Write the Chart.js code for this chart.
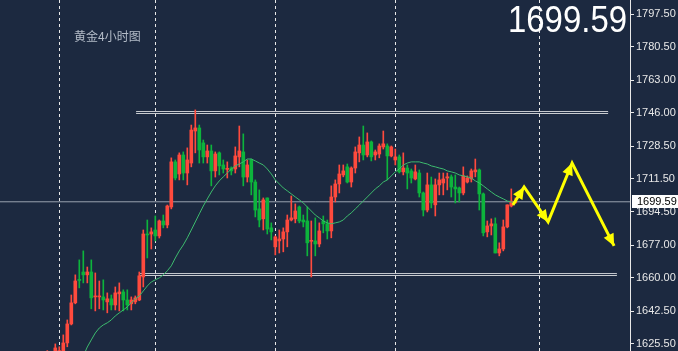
<!DOCTYPE html>
<html>
<head>
<meta charset="utf-8">
<script src="https://cdn.jsdelivr.net/npm/chart.js@4.4.1/dist/chart.umd.min.js"></script>
<style>
  html, body { margin: 0; padding: 0; background: #1c2940; }
  #wrap { width: 678px; height: 351px; }
</style>
</head>
<body>
<div id="wrap"><canvas id="goldChart" width="678" height="351"></canvas></div>
<script>
// 黄金 4小时图 - candles, MA, support/resistance boxes and forecast arrows

const opens = [
  1618.0,1617.0,1620.8,1619.5,1621.9,1626.0,1635.9,1646.9,1658.9,1663.0,
  1661.5,1663.0,1650.0,1650.0,1650.0,1647.4,1649.0,1645.8,1651.6,1652.6,
  1648.4,1646.4,1647.4,1648.4,1660.4,1682.8,1682.8,1684.9,1681.8,1689.6,
  1687.5,1696.9,1720.4,1714.1,1724.0,1714.6,1719.8,1736.5,1738.1,1730.3,
  1723.0,1726.1,1715.7,1725.1,1718.8,1716.5,1717.2,1716.7,1723.0,1725.6,
  1712.5,1721.4,1709.9,1695.9,1690.7,1701.6,1686.0,1676.1,1679.2,1680.2,
  1683.9,1690.1,1690.7,1696.9,1690.1,1689.6,1679.0,1679.2,1677.6,1689.6,
  1688.1,1684.4,1702.1,1708.9,1713.6,1717.8,1709.9,1717.2,1725.1,1729.2,
  1724.0,1730.8,1724.0,1724.5,1728.2,1728.7,1723.5,1721.4,1723.0,1715.2,
  1717.2,1715.7,1711.5,1714.6,1704.2,1695.3,1708.4,1698.0,1708.4,1709.4,
  1712.0,1712.6,1707.3,1706.8,1704.2,1709.9,1711.5,1715.2,1716.2,1703.7,
  1683.9,1687.0,1688.1,1672.9,1675.0,1686.5,1697.4,1699.0
];
const highs = [
  1622.0,1620.5,1625.5,1624.0,1630.2,1638.0,1651.0,1661.5,1669.3,1674.0,
  1665.6,1669.3,1662.5,1658.3,1658.9,1652.1,1651.0,1655.2,1657.3,1653.7,
  1653.7,1650.0,1650.5,1663.0,1684.9,1690.1,1686.0,1692.2,1690.1,1692.7,
  1697.9,1722.5,1721.4,1725.1,1725.6,1727.7,1739.6,1747.5,1739.6,1731.8,
  1729.2,1729.2,1725.6,1725.6,1721.4,1720.4,1717.8,1728.2,1739.1,1735.0,
  1721.4,1721.9,1711.0,1705.8,1701.6,1701.6,1688.6,1681.8,1684.9,1686.0,
  1692.7,1702.6,1698.5,1697.4,1692.7,1696.9,1689.6,1691.2,1688.6,1692.2,
  1690.1,1707.9,1711.0,1718.8,1718.8,1719.3,1717.8,1728.2,1733.4,1739.1,
  1735.5,1731.3,1726.6,1729.8,1736.5,1729.8,1728.7,1727.1,1724.0,1725.1,
  1718.8,1716.7,1718.8,1716.2,1704.7,1714.6,1712.5,1711.5,1714.6,1714.6,
  1714.6,1713.6,1713.6,1707.3,1717.8,1713.1,1716.7,1721.9,1716.7,1704.2,
  1689.6,1690.7,1691.2,1678.2,1690.1,1698.0,1706.3,1701.6
];
const lows = [
  1614.0,1613.0,1618.5,1617.5,1621.5,1624.0,1635.4,1646.4,1654.7,1657.3,
  1657.3,1643.8,1642.7,1643.8,1643.2,1641.7,1643.2,1643.2,1642.7,1642.7,
  1643.2,1643.2,1646.4,1648.0,1655.2,1670.3,1675.0,1679.2,1680.7,1686.0,
  1686.0,1695.9,1711.0,1711.0,1711.0,1708.4,1717.8,1725.1,1719.8,1719.8,
  1719.8,1707.9,1712.5,1713.6,1714.6,1712.0,1713.6,1714.6,1717.8,1707.9,
  1709.9,1703.2,1691.7,1686.5,1684.9,1682.8,1679.7,1671.9,1672.9,1673.5,
  1676.1,1689.6,1688.6,1688.6,1686.5,1671.4,1660.4,1671.4,1676.1,1683.4,
  1680.2,1680.8,1699.5,1704.2,1712.6,1709.4,1707.3,1714.6,1720.4,1721.4,
  1723.0,1720.9,1721.4,1722.5,1727.1,1711.0,1723.0,1718.8,1714.6,1713.6,
  1706.3,1709.4,1711.0,1702.1,1692.2,1694.3,1696.4,1692.2,1703.2,1703.2,
  1705.8,1702.1,1699.0,1699.5,1703.2,1709.4,1709.9,1712.6,1695.3,1681.8,
  1681.3,1682.3,1672.9,1671.4,1674.0,1686.0,1696.9,1699.0
];
const closes = [
  1620.5,1618.0,1623.4,1622.0,1626.0,1635.9,1646.9,1658.3,1658.6,1661.5,
  1663.0,1649.5,1650.3,1650.3,1648.4,1649.0,1645.8,1652.1,1652.6,1648.4,
  1645.8,1648.4,1649.5,1661.0,1682.8,1682.3,1683.9,1681.8,1689.6,1687.5,
  1697.4,1720.4,1712.0,1724.0,1714.6,1721.4,1737.0,1738.1,1726.6,1723.0,
  1726.1,1715.7,1724.5,1718.3,1716.7,1716.8,1715.7,1723.5,1726.1,1712.5,
  1718.8,1709.9,1695.3,1690.1,1700.6,1685.4,1683.9,1681.3,1680.2,1683.9,
  1690.1,1691.2,1694.8,1689.6,1689.1,1678.2,1679.4,1677.6,1684.4,1688.1,
  1684.4,1702.1,1708.9,1714.1,1715.7,1709.9,1717.2,1725.6,1729.2,1724.0,
  1730.8,1723.0,1725.6,1728.7,1729.8,1723.5,1728.2,1723.0,1715.2,1717.2,
  1714.6,1712.0,1715.2,1704.2,1695.3,1708.4,1699.0,1708.4,1711.0,1711.5,
  1712.6,1707.3,1706.3,1704.2,1713.1,1712.0,1715.7,1716.2,1703.7,1683.4,
  1687.0,1688.1,1672.9,1675.0,1686.5,1698.0,1700.0,1699.59
];
// moving average line
const maValues = [
  null,null,null,null,null,null,null,null,1611.9,1619.2,
  1623.9,1627.6,1631.2,1633.8,1635.4,1636.5,1638.0,1640.1,1641.7,1643.2,
  1644.8,1646.9,1649.0,1650.5,1653.1,1655.7,1657.8,1658.9,1659.9,1661.5,
  1663.6,1666.2,1670.3,1674.0,1677.1,1680.8,1684.9,1689.1,1693.3,1697.4,
  1701.1,1704.7,1707.9,1710.5,1712.6,1714.6,1716.7,1718.3,1719.3,1720.4,
  1721.9,1721.9,1720.9,1719.8,1718.8,1716.7,1714.1,1711.0,1708.9,1706.8,
  1705.3,1703.7,1702.1,1700.6,1699.0,1696.9,1694.8,1692.7,1691.2,1689.6,
  1688.6,1688.1,1688.6,1689.1,1690.1,1692.2,1693.8,1695.9,1697.9,1700.0,
  1702.1,1704.2,1706.3,1707.9,1709.9,1711.0,1713.1,1715.2,1716.7,1718.8,
  1719.8,1720.4,1720.4,1720.4,1719.8,1719.3,1718.3,1717.8,1717.2,1716.7,
  1715.7,1715.2,1714.6,1713.6,1713.1,1712.6,1712.0,1710.5,1709.4,1707.9,
  1706.3,1704.7,1703.2,1702.1,1701.1,1700.0,1699.5,1699.0
];

const yTickValues = [1797.50, 1780.50, 1763.00, 1746.00, 1728.50, 1711.50, 1694.50, 1677.00, 1660.00, 1642.50, 1625.50];
const separatorIdx = [3, 27, 57, 87, 123];   // dashed week separators (bar index)
const lastPrice = 1699.59;

// horizontal boxes (resistance / support)
const resistanceX = [22.2, 140.2];
const resistanceLevel = 1746.15;
const supportX = [23.2, 142.4];
const supportLevel = 1661.7;

// forecast arrows
const forecastX = [116.4, 119.2, 125.2, 131.2, 141.7];
const forecastY = [1697.9, 1707.3, 1689.1, 1719.8, 1676.6];

const UP = '#ff4a3d';
const DOWN = '#0db43c';
const BG = '#1c2940';
const candleColor = ctx => closes[ctx.dataIndex] >= opens[ctx.dataIndex] ? UP : DOWN;

const idx = closes.map((_, i) => i);
const bodies = idx.map(i => ({ x: i, y: [opens[i], closes[i]] }));
const wicks = idx.map(i => ({ x: i, y: [lows[i], highs[i]] }));
const maPoints = idx.map(i => ({ x: i, y: maValues[i] }));

const bgPlugin = {
  id: 'bg',
  beforeDraw(chart) {
    const c = chart.ctx;
    c.save();
    c.fillStyle = BG;
    c.fillRect(0, 0, chart.width, chart.height);
    c.restore();
  }
};

// arrow heads on the forecast path
const arrowPlugin = {
  id: 'arrows',
  afterDatasetsDraw(chart) {
    const meta = chart.getDatasetMeta(chart.data.datasets.findIndex(d => d.label === 'forecast'));
    const pts = meta.data;
    const c = chart.ctx;
    c.save();
    c.fillStyle = '#ffff00';
    for (let k = 1; k < pts.length; k++) {
      const a = pts[k - 1], b = pts[k];
      const ang = Math.atan2(b.y - a.y, b.x - a.x);
      const len = 12, half = 5.5;
      c.beginPath();
      c.moveTo(b.x, b.y);
      c.lineTo(b.x - len * Math.cos(ang) + half * Math.sin(ang), b.y - len * Math.sin(ang) - half * Math.cos(ang));
      c.lineTo(b.x - len * Math.cos(ang) - half * Math.sin(ang), b.y - len * Math.sin(ang) + half * Math.cos(ang));
      c.closePath();
      c.fill();
    }
    c.restore();
  }
};

const labelPlugin = {
  id: 'labels',
  afterDraw(chart) {
    const c = chart.ctx;
    const ys = chart.scales.y;
    const py = Math.round(ys.getPixelForValue(lastPrice));
    c.save();
    // price tag on the axis
    c.fillStyle = '#ffffff';
    c.fillRect(632, py - 7, 46, 13);
    c.fillStyle = '#000000';
    c.font = '11px "Liberation Sans Narrow", "Liberation Sans", sans-serif';
    c.textBaseline = 'middle';
    c.textAlign = 'left';
    c.fillText(lastPrice.toFixed(2), 637, py);

    // title
    c.fillStyle = '#b4bcc8';
    c.font = '12px "Noto Sans CJK SC", sans-serif';
    c.fillText('黄金4小时图', 74, 36);

    // big current price
    c.font = '37px "Liberation Sans", Arial, sans-serif';
    c.textBaseline = 'alphabetic';
    const txt = lastPrice.toFixed(2);
    const w = c.measureText(txt).width;
    c.translate(508, 32);
    c.scale(119 / w, 1);
    c.fillStyle = '#ffffff';
    c.fillText(txt, 0, 0);
    c.restore();
  }
};

new Chart(document.getElementById('goldChart'), {
  type: 'bar',
  data: {
    datasets: [
      { type: 'line', label: 'resistanceOuter', data: resistanceX.map(x => ({ x, y: resistanceLevel })), borderColor: '#c8cbd0', borderWidth: 3, pointRadius: 0, order: 8 },
      { type: 'line', label: 'resistanceInner', data: resistanceX.map(x => ({ x, y: resistanceLevel })), borderColor: BG, borderWidth: 1, pointRadius: 0, order: 7 },
      { type: 'line', label: 'supportOuter', data: supportX.map(x => ({ x, y: supportLevel })), borderColor: '#c8cbd0', borderWidth: 3, pointRadius: 0, order: 8 },
      { type: 'line', label: 'supportInner', data: supportX.map(x => ({ x, y: supportLevel })), borderColor: BG, borderWidth: 1, pointRadius: 0, order: 7 },
      { type: 'line', label: 'price', data: [{ x: -12, y: lastPrice }, { x: 146, y: lastPrice }], borderColor: '#9aa2ae', borderWidth: 1, pointRadius: 0, order: 6 },
      { label: 'wicks', data: wicks, backgroundColor: candleColor, barThickness: 1, minBarLength: 1, grouped: false, order: 4 },
      { label: 'bodies', data: bodies, backgroundColor: candleColor, barThickness: 3, minBarLength: 1, grouped: false, order: 3 },
      { type: 'line', label: 'ma', data: maPoints, borderColor: '#3dbb6e', borderWidth: 1, pointRadius: 0, tension: 0, spanGaps: false, order: 2 },
      { type: 'line', label: 'forecast', data: forecastX.map((x, i) => ({ x, y: forecastY[i] })), borderColor: '#ffff00', borderWidth: 3, pointRadius: 0, tension: 0, order: 0 }
    ]
  },
  options: {
    responsive: false,
    animation: false,
    devicePixelRatio: 1,
    layout: { padding: 0 },
    plugins: { legend: { display: false }, tooltip: { enabled: false } },
    scales: {
      x: {
        type: 'linear',
        min: -11.825,
        max: 145.675,
        offset: false,
        afterBuildTicks: s => { s.ticks = separatorIdx.map(v => ({ value: v })); },
        afterFit: s => { s.height = 0; s.paddingLeft = 0; s.paddingRight = 0; s.paddingTop = 0; s.paddingBottom = 0; },
        ticks: { display: false },
        grid: { color: '#e8e8e8', lineWidth: 1, drawTicks: false, offset: false },
        border: { display: false, dash: [3, 3] }
      },
      y: {
        type: 'linear',
        position: 'right',
        min: 1621.8,
        max: 1804.8,
        afterBuildTicks: s => { s.ticks = yTickValues.map(v => ({ value: v })); },
        afterFit: s => { s.width = 48; s.paddingTop = 0; s.paddingBottom = 0; s.paddingLeft = 0; s.paddingRight = 0; },
        ticks: {
          color: '#e8e8e8',
          padding: 2,
          font: { family: '"Liberation Sans Narrow", "Liberation Sans", sans-serif', size: 11 },
          callback: v => Number(v).toFixed(2)
        },
        grid: { drawOnChartArea: false, drawTicks: true, tickLength: 4, color: '#e8e8e8' },
        border: { display: true, color: '#e8e8e8', width: 1 }
      }
    }
  },
  plugins: [bgPlugin, arrowPlugin, labelPlugin]
});
</script>
</body>
</html>
